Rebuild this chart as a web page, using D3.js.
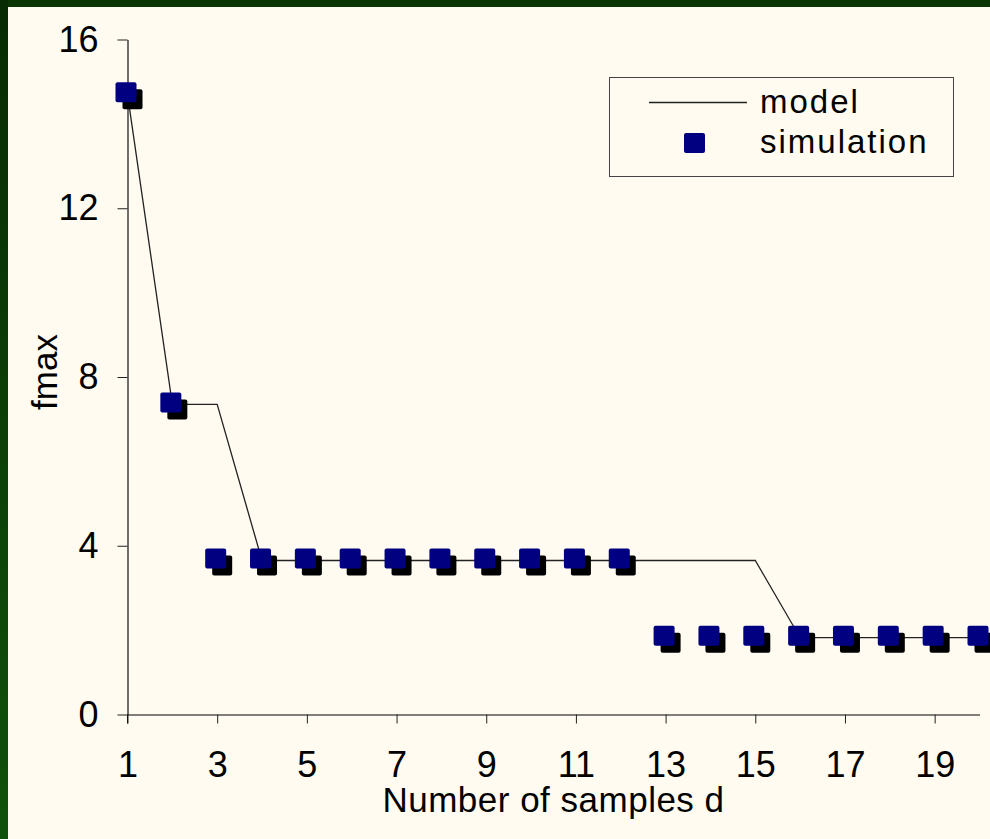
<!DOCTYPE html>
<html>
<head>
<meta charset="utf-8">
<script src="https://cdn.jsdelivr.net/npm/d3@7"></script>
<style>
  body { margin: 0; background: #fffbf0; }
  svg text { font-family: "Liberation Sans", Arial, sans-serif; fill: #000; }
</style>
</head>
<body>
<svg id="chart" width="990" height="839"></svg>
<script>

// ***** DATA *****
const samples = [1, 2, 3, 4, 5, 6, 7, 8, 9, 10, 11, 12, 13, 14, 15, 16, 17, 18, 19, 20];
const model = [14.7, 7.35, 7.35, 3.65, 3.65, 3.65, 3.65, 3.65, 3.65, 3.65, 3.65, 3.65, 3.65, 3.65, 3.65,
               1.82, 1.82, 1.82, 1.82, 1.82];
const simulation = [14.7, 7.35, 3.65, 3.65, 3.65, 3.65, 3.65, 3.65, 3.65, 3.65, 3.65, 3.65,
                    1.82, 1.82, 1.82, 1.82, 1.82, 1.82, 1.82, 1.82];
const xTicks = [1, 3, 5, 7, 9, 11, 13, 15, 17, 19];
const yTicks = [0, 4, 8, 12, 16];
const seriesNames = ["model", "simulation"];
const xTitle = "Number of samples d";
const yTitle = "fmax";

// ***** SETUP *****
const width = 990, height = 839;
const svg = d3.select("#chart");

// green frame on top and left edges
const defs = svg.append("defs");
const grad = defs.append("linearGradient")
    .attr("id", "leftBand").attr("x1", 0).attr("y1", 0).attr("x2", 0).attr("y2", 1);
grad.append("stop").attr("offset", "0%").attr("stop-color", "#072b03");
grad.append("stop").attr("offset", "100%").attr("stop-color", "#10520b");

svg.append("rect").attr("width", width).attr("height", height).attr("fill", "#fffbf0");
svg.append("rect").attr("x", 0).attr("y", 0).attr("width", width).attr("height", 7).attr("fill", "#0b3505");
svg.append("rect").attr("x", 0).attr("y", 0).attr("width", 8).attr("height", height).attr("fill", "url(#leftBand)");

const x = d3.scaleLinear().domain([1, 20]).range([127.5, 979.5]);
const y = d3.scaleLinear().domain([0, 16]).range([714.5, 39.5]);

// ***** AXES *****
const xAxis = svg.append("g")
    .attr("transform", `translate(0, ${y(0)})`)
    .call(d3.axisBottom(x).tickValues(xTicks).tickSize(9).tickSizeOuter(0).tickPadding(28));
xAxis.select(".domain").attr("stroke", "#555").attr("stroke-width", 1.3);
xAxis.selectAll(".tick line").attr("stroke", "#222");
xAxis.selectAll(".tick text").attr("font-size", 36).attr("font-family", null);

const yAxis = svg.append("g")
    .attr("transform", `translate(${x(1)}, 0)`)
    .call(d3.axisLeft(y).tickValues(yTicks).tickSize(10).tickSizeOuter(0).tickPadding(19));
yAxis.select(".domain").attr("stroke", "#111").attr("stroke-width", 1.2);
yAxis.selectAll(".tick line").attr("stroke", "#222");
yAxis.selectAll(".tick text").attr("font-size", 36).attr("font-family", null);

// extend y axis to bottom of x tick
svg.append("line")
    .attr("x1", x(1)).attr("x2", x(1))
    .attr("y1", y(0)).attr("y2", y(0) + 9)
    .attr("stroke", "#111");

// ***** MODEL LINE *****
const line = d3.line().x((d, i) => x(samples[i])).y(d => y(d));
svg.append("path")
    .datum(model)
    .attr("fill", "none")
    .attr("stroke", "#222")
    .attr("stroke-width", 1.3)
    .attr("d", line);

// ***** SIMULATION MARKERS *****
const sz = 20;
const pts = svg.append("g").selectAll("g")
    .data(simulation)
    .join("g")
    .attr("transform", (d, i) => `translate(${x(samples[i])}, ${y(d)})`);
pts.append("rect")
    .attr("x", -sz / 2 + 5).attr("y", -sz / 2 + 5)
    .attr("width", sz).attr("height", sz).attr("rx", 2)
    .attr("fill", "#000");
pts.append("rect")
    .attr("x", -sz / 2 - 2).attr("y", -sz / 2 - 2)
    .attr("width", sz + 1).attr("height", sz).attr("rx", 2)
    .attr("fill", "#000080");

// ***** AXIS TITLES *****
svg.append("text")
    .attr("x", (x(1) + x(20)) / 2)
    .attr("y", 812)
    .attr("text-anchor", "middle")
    .attr("font-size", 35)
    .attr("letter-spacing", 0.5)
    .text(xTitle);

svg.append("text")
    .attr("transform", `translate(57, 372) rotate(-90)`)
    .attr("text-anchor", "middle")
    .attr("font-size", 35)
    .text(yTitle);

// ***** LEGEND *****
const legend = svg.append("g");
legend.append("rect")
    .attr("x", 609.5).attr("y", 77.5)
    .attr("width", 344).attr("height", 99)
    .attr("fill", "#fffbf0")
    .attr("stroke", "#444").attr("stroke-width", 1);

legend.append("line")
    .attr("x1", 649).attr("x2", 747)
    .attr("y1", 102.5).attr("y2", 102.5)
    .attr("stroke", "#222").attr("stroke-width", 1.3);

legend.append("rect")
    .attr("x", 684).attr("y", 133)
    .attr("width", 21).attr("height", 20).attr("rx", 2)
    .attr("fill", "#000080");

legend.selectAll("text.leg")
    .data(seriesNames)
    .join("text")
    .attr("class", "leg")
    .attr("x", 760)
    .attr("y", (d, i) => 113 + i * 40)
    .attr("font-size", 33)
    .attr("letter-spacing", 2)
    .text(d => d);

</script>
</body>
</html>
